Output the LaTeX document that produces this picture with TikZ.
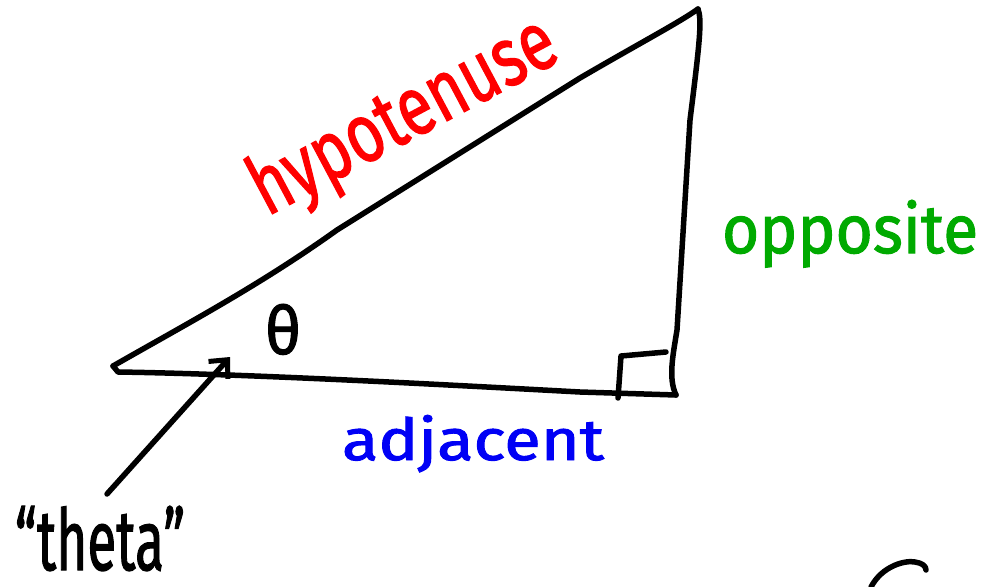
\documentclass[tikz,border=0pt]{standalone}
\usepackage{graphicx}
\usepackage{fontspec}
\setmainfont{Fira Sans}
\newfontfamily\handfont{Fira Sans}[FakeBold=1.6]
\usetikzlibrary{arrows.meta}
\definecolor{hypred}{RGB}{255,0,0}
\definecolor{oppgreen}{RGB}{0,170,0}
\definecolor{adjblue}{RGB}{0,0,245}
\tikzset{
  ink/.style={line width=5.5pt, line cap=round, line join=round, black},
  word/.style={inner sep=0pt, anchor=base, font=\handfont},
}
\begin{document}
\begin{tikzpicture}[x=1pt,y=-1pt]
\useasboundingbox (0,0) rectangle (987,586);
% vertices
\coordinate (L) at (113,366);
\coordinate (L2) at (118,372);
\coordinate (T) at (698,9);
\coordinate (R) at (676,395);
% hypotenuse
\draw[ink] (L) .. controls (190,322) and (260,285) .. (337,230) -- (580,78) .. controls (640,43) and (680,22) .. (T);
% left hook and adjacent side
\draw[ink] (L) -- (L2) .. controls (250,374) and (450,385) .. (580,392) -- (R);
% opposite side
\draw[ink] (T) .. controls (702,20) and (700,40) .. (690,120) -- (677,330) .. controls (673,355) and (668,378) .. (R);
% right angle mark
\coordinate (ra1) at (618,398);
\coordinate (ra2) at (621,356);
\coordinate (ra3) at (666,352);
\draw[ink] (ra1) -- (ra2) -- (ra3);
% labels
\node[word, rotate=28, text=hypred] (hyp) at (415,138) {\resizebox{335pt}{62pt}{hypotenuse}};
\node[word, text=oppgreen] (opp) at (850,253) {\resizebox{256pt}{53pt}{opposite}};
\node[word, text=adjblue] (adj) at (473,460) {\resizebox{262pt}{45pt}{adjacent}};
\node[word] (th) at (283,354) {\resizebox{36pt}{50pt}{θ}};
\node[word] (theta) at (100,570) {\resizebox{170pt}{64pt}{“theta”}};
% arrow
\coordinate (atail) at (107,494);
\coordinate (atip) at (230,357);
\draw[ink, -{Straight Barb[length=14pt,width=26pt,line width=5pt]}] (atail) -- (atip);
% partial stroke at bottom right
\coordinate (c1) at (871,587);
\coordinate (c2) at (926,570);
\draw[ink] (c1) .. controls (882,566) and (905,560) .. (915,562) .. controls (922,563) and (926,566) .. (c2);
\end{tikzpicture}
\end{document}
